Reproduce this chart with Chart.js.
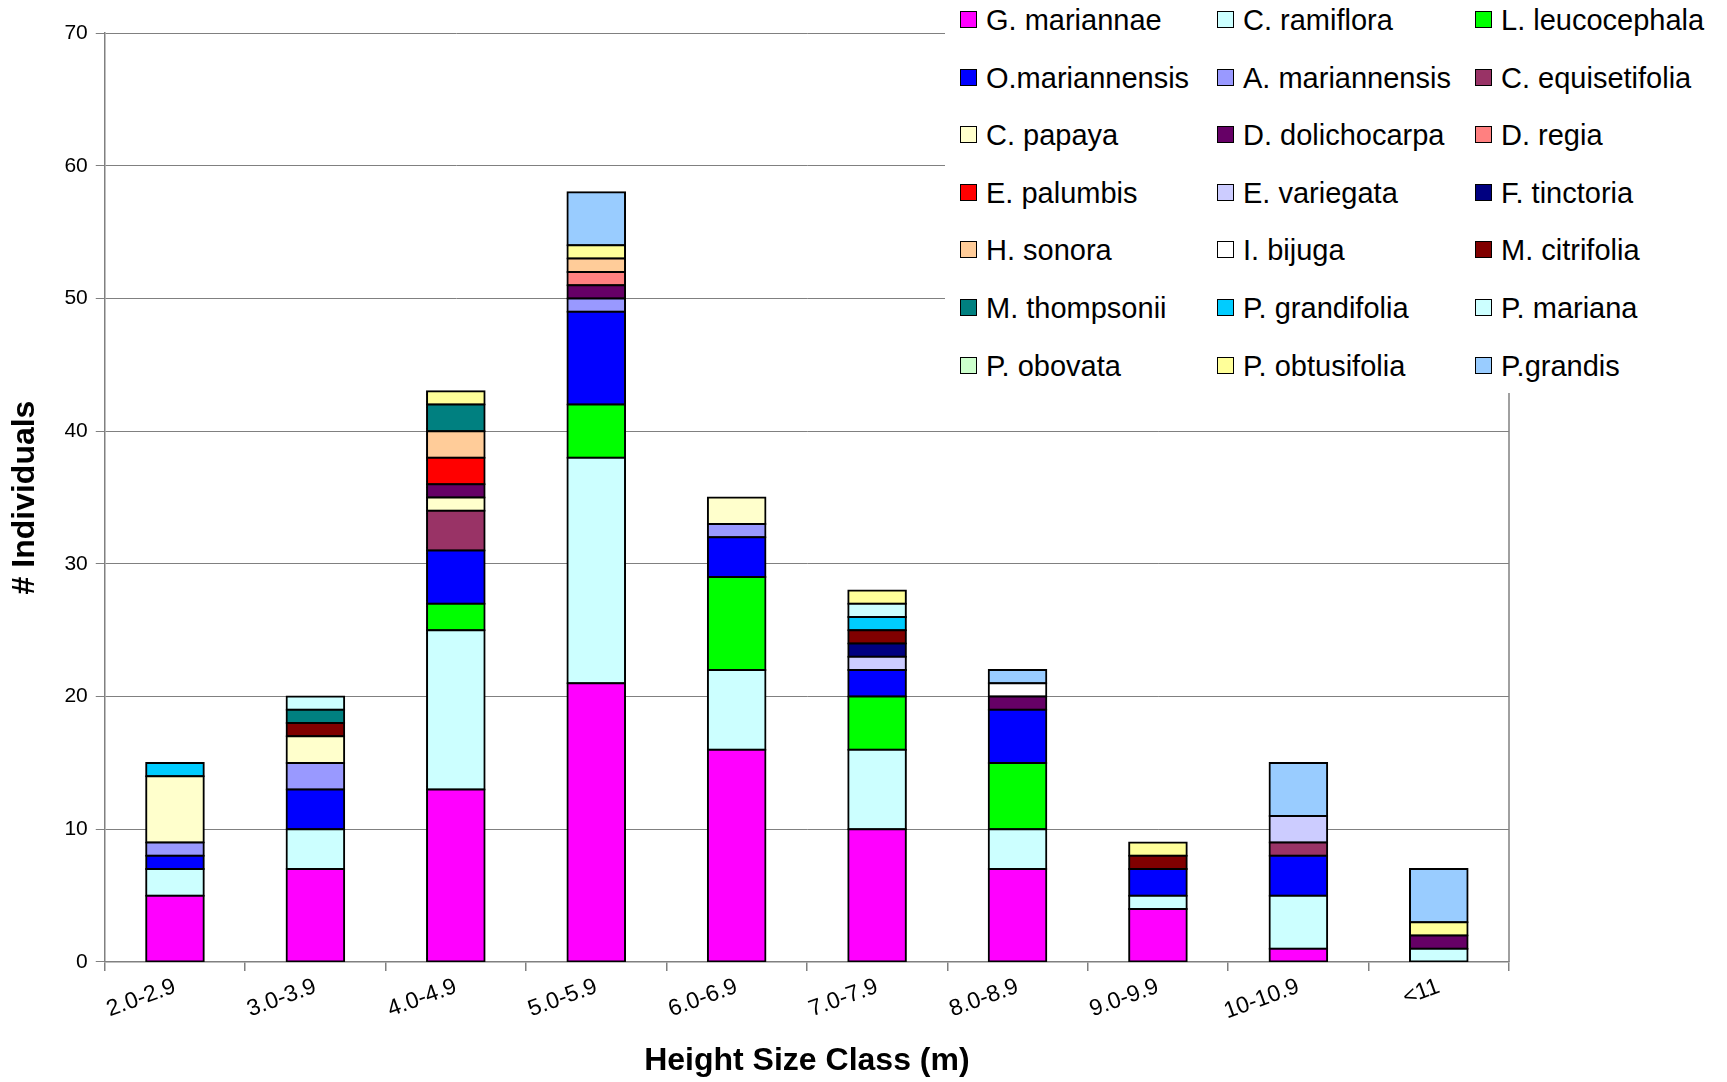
<!DOCTYPE html>
<html>
<head>
<meta charset="utf-8">
<script src="https://cdn.jsdelivr.net/npm/chart.js@4.4.1/dist/chart.umd.min.js"></script>
<style>
  body { margin: 0; background: #fff; }
  #wrap { position: relative; width: 1727px; height: 1082px; }
  #legend {
    position: absolute; left: 945px; top: 0; width: 782px; height: 393px;
    background: #fff; font-family: 'Liberation Sans', Arial, sans-serif; font-size: 29px; color: #000;
  }
  .item { position: absolute; height: 34px; line-height: 34px; white-space: nowrap; }
  .box { position: absolute; left: 0; top: 8px; width: 15px; height: 15px; border: 1.5px solid #000; }
  .label { position: absolute; left: 26px; top: 0; }
</style>
</head>
<body>
<div id="wrap">
  <canvas id="sizeClassChart" width="1727" height="1082"></canvas>
  <div id="legend"></div>
</div>
<script>
const categories = ['2.0-2.9', '3.0-3.9', '4.0-4.9', '5.0-5.9', '6.0-6.9', '7.0-7.9', '8.0-8.9', '9.0-9.9', '10-10.9', '<11'];

// individuals per height class, one array per species (stacked bottom to top)
const gMariannae      = [5, 7, 13, 21, 16, 10, 7, 4, 1, 0];
const cRamiflora      = [2, 3, 12, 17, 6, 6, 3, 1, 4, 1];
const lLeucocephala   = [0, 0, 2, 4, 7, 4, 5, 0, 0, 0];
const oMariannensis   = [1, 3, 4, 7, 3, 2, 4, 2, 3, 0];
const aMariannensis   = [1, 2, 0, 1, 1, 0, 0, 0, 0, 0];
const cEquisetifolia  = [0, 0, 3, 0, 0, 0, 0, 0, 1, 0];
const cPapaya         = [5, 2, 1, 0, 2, 0, 0, 0, 0, 0];
const dDolichocarpa   = [0, 0, 1, 1, 0, 0, 1, 0, 0, 1];
const dRegia          = [0, 0, 0, 1, 0, 0, 0, 0, 0, 0];
const ePalumbis       = [0, 0, 2, 0, 0, 0, 0, 0, 0, 0];
const eVariegata      = [0, 0, 0, 0, 0, 1, 0, 0, 2, 0];
const fTinctoria      = [0, 0, 0, 0, 0, 1, 0, 0, 0, 0];
const hSonora         = [0, 0, 2, 1, 0, 0, 0, 0, 0, 0];
const iBijuga         = [0, 0, 0, 0, 0, 0, 1, 0, 0, 0];
const mCitrifolia     = [0, 1, 0, 0, 0, 1, 0, 1, 0, 0];
const mThompsonii     = [0, 1, 2, 0, 0, 0, 0, 0, 0, 0];
const pGrandifolia    = [1, 0, 0, 0, 0, 1, 0, 0, 0, 0];
const pMariana        = [0, 1, 0, 0, 0, 1, 0, 0, 0, 0];
const pObovata        = [0, 0, 0, 0, 0, 0, 0, 0, 0, 0];
const pObtusifolia    = [0, 0, 1, 1, 0, 1, 0, 1, 0, 1];
const pGrandis        = [0, 0, 0, 4, 0, 0, 1, 0, 4, 4];

const species = [
  ['G. mariannae', gMariannae, '#FF00FF'],
  ['C. ramiflora', cRamiflora, '#CCFFFF'],
  ['L. leucocephala', lLeucocephala, '#00FF00'],
  ['O.mariannensis', oMariannensis, '#0000FF'],
  ['A. mariannensis', aMariannensis, '#9999FF'],
  ['C. equisetifolia', cEquisetifolia, '#993366'],
  ['C. papaya', cPapaya, '#FFFFCC'],
  ['D. dolichocarpa', dDolichocarpa, '#660066'],
  ['D. regia', dRegia, '#FF8080'],
  ['E. palumbis', ePalumbis, '#FF0000'],
  ['E. variegata', eVariegata, '#CCCCFF'],
  ['F. tinctoria', fTinctoria, '#000080'],
  ['H. sonora', hSonora, '#FFCC99'],
  ['I. bijuga', iBijuga, '#FFFFFF'],
  ['M. citrifolia', mCitrifolia, '#800000'],
  ['M. thompsonii', mThompsonii, '#008080'],
  ['P. grandifolia', pGrandifolia, '#00CCFF'],
  ['P. mariana', pMariana, '#CCFFFF'],
  ['P. obovata', pObovata, '#CCFFCC'],
  ['P. obtusifolia', pObtusifolia, '#FFFF99'],
  ['P.grandis', pGrandis, '#99CCFF']
];

const yTicks = [0, 10, 20, 30, 40, 50, 60, 70];

Chart.defaults.font.family = "'Liberation Sans', Arial, sans-serif";
Chart.defaults.color = '#000';

// right edge of the plot area
const plotFrame = {
  id: 'plotFrame',
  beforeDatasetsDraw(chart) {
    const a = chart.chartArea;
    const c = chart.ctx;
    c.save();
    c.strokeStyle = '#808080';
    c.lineWidth = 1.5;
    c.beginPath();
    c.moveTo(a.right, a.top);
    c.lineTo(a.right, a.bottom);
    c.stroke();
    c.restore();
  }
};

const ctx = document.getElementById('sizeClassChart').getContext('2d');
const chart = new Chart(ctx, {
  type: 'bar',
  data: {
    labels: categories,
    datasets: species.map(s => ({
      label: s[0],
      data: s[1].map(v => v === 0 ? null : v),
      backgroundColor: s[2],
      borderColor: '#000',
      borderWidth: 2,
      inflateAmount: 1, // centre the outline on the segment edge
      borderSkipped: false,
      barPercentage: 0.41,
      categoryPercentage: 1
    }))
  },
  options: {
    responsive: false,
    animation: false,
    layout: { padding: { left: 6, right: 218, top: 33, bottom: 2 } },
    plugins: {
      legend: { display: false },
      tooltip: { enabled: false }
    },
    scales: {
      x: {
        stacked: true,
        grid: { offset: true, drawOnChartArea: false, tickLength: 9, color: '#808080', lineWidth: 1.5 },
        border: { color: '#808080', width: 1.5 },
        ticks: { minRotation: 20, maxRotation: 20, font: { size: 23 }, padding: 2 },
        title: { display: true, text: 'Height Size Class (m)', font: { size: 32, weight: 'bold' }, padding: { top: 14, bottom: 0 } }
      },
      y: {
        stacked: true,
        min: 0,
        max: 70,
        afterBuildTicks: scale => { scale.ticks = yTicks.map(v => ({ value: v })); },
        grid: { color: '#808080', tickLength: 9 },
        border: { color: '#808080', width: 1.5 },
        ticks: { font: { size: 21 }, padding: 8 },
        title: { display: true, text: '# Individuals', font: { size: 32, weight: 'bold' }, padding: { top: 0, bottom: 12 } }
      }
    }
  },
  plugins: [plotFrame]
});

// legend: three columns, seven rows
const legend = document.getElementById('legend');
const colX = [15, 272, 530];
chart.data.datasets.forEach((ds, i) => {
  const item = document.createElement('div');
  item.className = 'item';
  item.style.left = colX[i % 3] + 'px';
  item.style.top = (3 + Math.floor(i / 3) * 57.6) + 'px';
  const box = document.createElement('span');
  box.className = 'box';
  box.style.background = ds.backgroundColor;
  const text = document.createElement('span');
  text.className = 'label';
  text.textContent = ds.label;
  item.appendChild(box);
  item.appendChild(text);
  legend.appendChild(item);
});
</script>
</body>
</html>
